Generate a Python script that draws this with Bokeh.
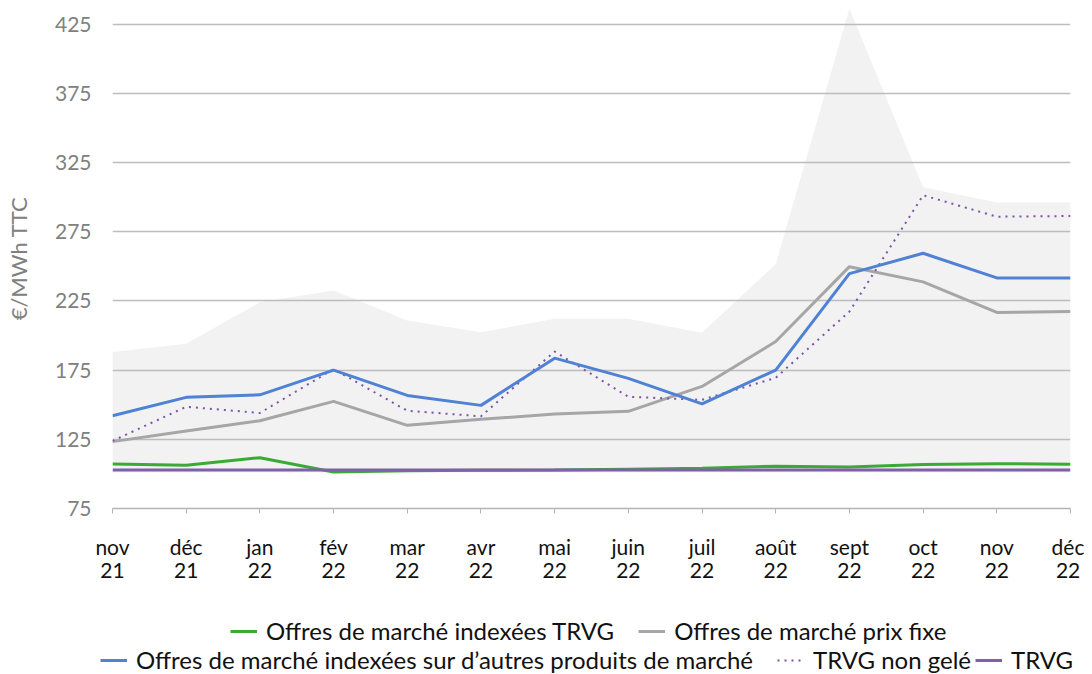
from bokeh.plotting import figure
from bokeh.layouts import column
from bokeh.models import Range1d, FixedTicker, Legend, LegendItem
from bokeh.embed import file_html
from bokeh.resources import INLINE

months = ["nov\n21", "déc\n21", "jan\n22", "fév\n22", "mar\n22", "avr\n22", "mai\n22",
          "juin\n22", "juil\n22", "août\n22", "sept\n22", "oct\n22", "nov\n22", "déc\n22"]
x = list(range(len(months)))

indexees_trvg = [107.2, 106.3, 111.7, 101.4, 102.3, 102.6, 102.8, 103.4, 104.0, 105.6, 104.9, 106.8, 107.4, 107.0]
prix_fixe = [123.3, 131.0, 138.4, 152.4, 135.1, 139.4, 143.2, 145.2, 163.2, 195.6, 249.7, 238.7, 216.6, 217.3]
indexees_autres = [142.0, 155.3, 157.1, 175.0, 156.7, 149.5, 183.6, 169.0, 150.6, 175.0, 244.7, 259.4, 241.6, 241.6]
trvg_non_gele = [123.8, 148.5, 144.0, 175.7, 145.6, 141.6, 188.4, 155.7, 153.5, 169.4, 217.3, 301.3, 285.8, 286.3]
trvg = [102.8, 102.8, 102.8, 102.8, 102.8, 102.8, 102.8, 102.8, 102.8, 102.8, 102.8, 102.8, 102.8, 102.8]
band_low = [101, 101, 101, 101, 101, 101, 101, 101, 101, 101, 101, 101, 101, 101]
band_high = [188, 194, 224, 232.4, 210.8, 202.3, 212, 212, 202, 251.5, 436, 307, 296, 296]
y_ticks = [75, 125, 175, 225, 275, 325, 375, 425]

FONT = "Lato"

p = figure(width=1084, height=588, output_backend="svg", toolbar_location=None,
           x_range=Range1d(0, 13), y_range=Range1d(75, 436.2),
           min_border_left=112, min_border_right=14, min_border_top=8, min_border_bottom=80)
p.frame_align = False
p.outline_line_color = None
p.background_fill_color = "white"

band = p.varea(x=x, y1=band_low, y2=band_high, fill_color="#f2f2f2", level="image")

styles = {
    "green": dict(line_color="#3aaa35", line_width=3),
    "gray": dict(line_color="#a6a6a6", line_width=3),
    "trvg": dict(line_color="#7f5fa8", line_width=3),
    "dot": dict(line_color="#7b52ab", line_width=2, line_dash="2 5"),
    "blue": dict(line_color="#4f81d4", line_width=3),
}
p.line(x, indexees_trvg, **styles["green"])
p.line(x, prix_fixe, **styles["gray"])
p.line(x, trvg, **styles["trvg"])
p.line(x, trvg_non_gele, **styles["dot"])
p.line(x, indexees_autres, **styles["blue"])

p.xgrid.grid_line_color = None
p.ygrid.ticker = FixedTicker(ticks=y_ticks)
p.ygrid.grid_line_color = "#bdbdbd"
p.ygrid.grid_line_width = 1.5

p.yaxis.ticker = FixedTicker(ticks=y_ticks)
p.yaxis.axis_line_color = None
p.yaxis.major_tick_line_color = None
p.yaxis.minor_tick_line_color = None
p.yaxis.major_label_text_font = FONT
p.yaxis.major_label_text_font_size = "21px"
p.yaxis.major_label_text_color = "#808080"
p.yaxis.major_label_standoff = 15
p.yaxis.axis_label = "€/MWh TTC"
p.yaxis.axis_label_text_font = FONT
p.yaxis.axis_label_text_font_size = "22px"
p.yaxis.axis_label_text_font_style = "normal"
p.yaxis.axis_label_text_color = "#808080"
p.yaxis.axis_label_standoff = 20

p.xaxis.ticker = FixedTicker(ticks=x)
p.xaxis.major_label_overrides = {i: m for i, m in zip(x, months)}
p.xaxis.axis_line_color = "#b4b4b4"
p.xaxis.axis_line_width = 1.5
p.xaxis.major_tick_line_color = "#b4b4b4"
p.xaxis.major_tick_in = 0
p.xaxis.major_tick_out = 5
p.xaxis.minor_tick_line_color = None
p.xaxis.major_label_text_font = FONT
p.xaxis.major_label_text_font_size = "21px"
p.xaxis.major_label_text_line_height = 0.95
p.xaxis.major_label_text_color = "#111111"
p.xaxis.major_label_standoff = 20

# legend strip
q = figure(width=1084, height=86, output_backend="svg", toolbar_location=None,
           x_range=Range1d(0, 1), y_range=Range1d(0, 1),
           min_border_left=0, min_border_right=0, min_border_top=0, min_border_bottom=0)
q.frame_align = False
q.axis.visible = False
q.grid.visible = False
q.outline_line_color = None
q_r = {k: q.line([-2, -1], [-2, -2], **v) for k, v in styles.items()}

leg1 = Legend(items=[LegendItem(label="Offres de marché indexées TRVG", renderers=[q_r["green"]]),
                     LegendItem(label="Offres de marché prix fixe", renderers=[q_r["gray"]])],
              orientation="horizontal", location=(230, 29))
leg2 = Legend(items=[LegendItem(label="Offres de marché indexées sur d’autres produits de marché", renderers=[q_r["blue"]]),
                     LegendItem(label="TRVG non gelé", renderers=[q_r["dot"]])],
              orientation="horizontal", location=(100, 0))
leg3 = Legend(items=[LegendItem(label="TRVG", renderers=[q_r["trvg"]])],
              orientation="horizontal", location=(975, 0))
for lg in (leg1, leg2, leg3):
    lg.label_text_font = FONT
    lg.label_text_font_size = "24px"
    lg.label_text_line_height = 1.0
    lg.label_text_color = "#111111"
    lg.glyph_width = 27
    lg.glyph_height = 20
    lg.label_standoff = 9
    lg.spacing = 24
    lg.padding = 0
    lg.margin = 0
    lg.border_line_color = None
    lg.background_fill_alpha = 0
    lg.click_policy = "none"
q.add_layout(leg1)
q.add_layout(leg2)
q.add_layout(leg3)

layout = column(p, q)
open("out.html", "w").write(file_html(layout, INLINE))
